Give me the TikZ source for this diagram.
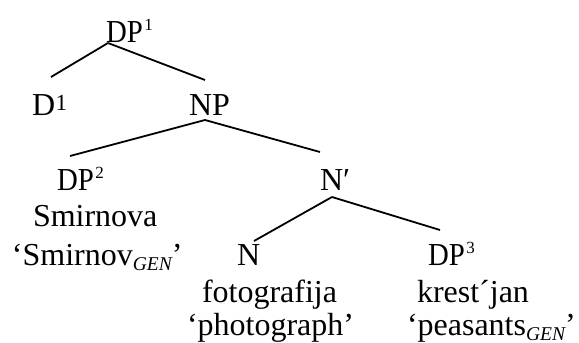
\documentclass[tikz,border=0pt]{standalone}
\usepackage{fontspec}
\setmainfont{Liberation Serif}
\newcommand\smsup[1]{\kern1.5pt\raisebox{12pt}{\fontsize{17}{17}\selectfont #1}}
\newcommand\bigsup[1]{\kern0.5pt\raisebox{5pt}{\fontsize{23}{23}\selectfont #1}}
\newcommand\gensub{\raisebox{-5pt}{\fontsize{19.5}{20}\selectfont\itshape GEN}}
\newcommand\dpx{\scalebox{0.9}[1]{DP}}
\begin{document}
\begin{tikzpicture}[x=1pt,y=-1pt,
  lbl/.style={anchor=base west,inner sep=0pt,outer sep=0pt,font=\fontsize{32}{37}\selectfont},
  branch/.style={line width=1.8pt}]
\useasboundingbox (0,0) rectangle (579,343);
% labels
\node[lbl] (dp1) at (106,42) {\dpx\smsup{1}};
\node[lbl] (d1) at (32,115) {D\bigsup{1}};
\node[lbl] (np) at (189,115) {NP};
\node[lbl] (dp2) at (57,190) {\dpx\smsup{2}};
\node[lbl] (smir) at (33,226) {Smirnova};
\node[lbl] (smirgl) at (12,265) {‘Smirnov\gensub’};
\node[lbl] (nbar) at (320,190) {N′};
\node[lbl] (n) at (237,265) {N};
\node[lbl] (foto) at (202,302) {fotografija};
\node[lbl] (fotogl) at (187,335) {‘photograph’};
\node[lbl] (dp3) at (428,265) {\dpx\smsup{3}};
\node[lbl] (krest) at (417,302) {krest´jan};
\node[lbl] (krestgl) at (407,335) {‘peasants\gensub’};
% branch points
\coordinate (dp1-foot) at (108,43);
\coordinate (d1-top) at (51,77);
\coordinate (np-top) at (205,80);
\coordinate (np-foot) at (205,120);
\coordinate (dp2-top) at (70,156);
\coordinate (nbar-top) at (320,152);
\coordinate (nbar-foot) at (332,197);
\coordinate (n-top) at (254,241);
\coordinate (dp3-top) at (440,230);
% branches
\draw[branch] (dp1-foot) -- (d1-top);
\draw[branch] (dp1-foot) -- (np-top);
\draw[branch] (np-foot) -- (dp2-top);
\draw[branch] (np-foot) -- (nbar-top);
\draw[branch] (nbar-foot) -- (n-top);
\draw[branch] (nbar-foot) -- (dp3-top);
\end{tikzpicture}
\end{document}
